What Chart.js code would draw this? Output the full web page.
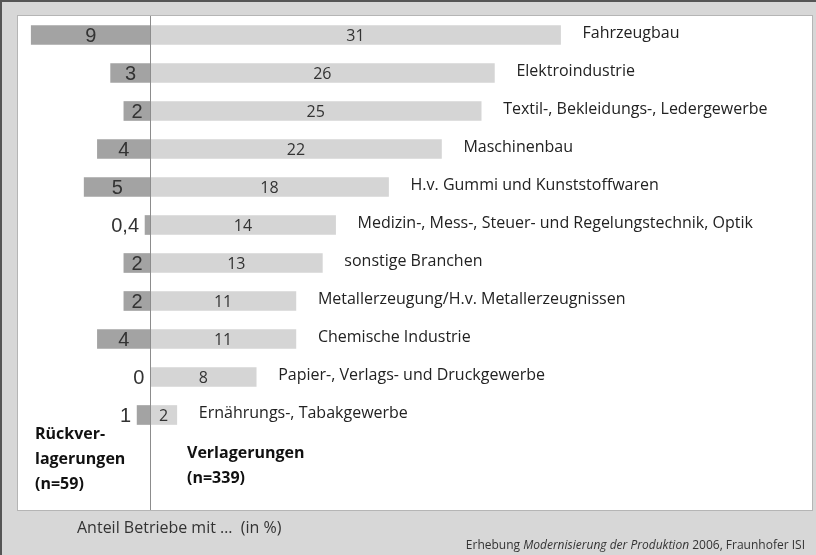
<!DOCTYPE html>
<html>
<head>
<meta charset="utf-8">
<script src="https://cdn.jsdelivr.net/npm/chart.js@4"></script>
<style>
    body { margin: 0; background: #d7d7d7; }
    canvas { display: block; }
</style>
</head>
<body>
<canvas id="chart" width="816" height="555"></canvas>
<script>
const branchen = [
    "Fahrzeugbau",
    "Elektroindustrie",
    "Textil-, Bekleidungs-, Ledergewerbe",
    "Maschinenbau",
    "H.v. Gummi und Kunststoffwaren",
    "Medizin-, Mess-, Steuer- und Regelungstechnik, Optik",
    "sonstige Branchen",
    "Metallerzeugung/H.v. Metallerzeugnissen",
    "Chemische Industrie",
    "Papier-, Verlags- und Druckgewerbe",
    "Ernährungs-, Tabakgewerbe"
]
const verlagerungen = [31, 26, 25, 22, 18, 14, 13, 11, 11, 8, 2]
const rueckverlagerungen = [9, 3, 2, 4, 5, 0.4, 2, 2, 4, 0, 1]

const fontSans = "'Open Sans', 'Noto Sans', sans-serif"

function formatDe(v) {
    return String(v).replace(".", ",")
}

// background, white panel, labels and the zero line
const panelPlugin = {
    id: "panel",
    beforeDraw(chart) {
        const { ctx, chartArea: a, width, height } = chart
        ctx.save()
        ctx.fillStyle = "#d7d7d7"
        ctx.fillRect(0, 0, width, height)
        ctx.strokeStyle = "#555"
        ctx.lineWidth = 2
        ctx.beginPath()
        ctx.moveTo(1, height)
        ctx.lineTo(1, 1)
        ctx.lineTo(width, 1)
        ctx.stroke()
        ctx.fillStyle = "#fff"
        ctx.fillRect(a.left, a.top, a.right - a.left, a.bottom - a.top)
        ctx.strokeStyle = "#b5b5b5"
        ctx.lineWidth = 1
        ctx.strokeRect(a.left - 0.5, a.top - 0.5, a.right - a.left + 1, a.bottom - a.top + 1)
        ctx.restore()
    },
    afterDatasetsDraw(chart) {
        const { ctx, chartArea: a, scales: { x, y } } = chart
        const zero = x.getPixelForValue(0)
        ctx.save()

        ctx.strokeStyle = "#8c8c8c"
        ctx.lineWidth = 1
        ctx.beginPath()
        ctx.moveTo(Math.round(zero) + 0.5, a.top)
        ctx.lineTo(Math.round(zero) + 0.5, a.bottom)
        ctx.stroke()

        ctx.textBaseline = "middle"
        branchen.forEach((name, i) => {
            const yPx = y.getPixelForValue(i)

            // Verlagerungen
            const end = x.getPixelForValue(verlagerungen[i])
            ctx.fillStyle = "#333"
            ctx.font = "16px " + fontSans
            ctx.textAlign = "center"
            ctx.fillText(formatDe(verlagerungen[i]), (zero + end) / 2, yPx + 1)

            ctx.fillStyle = "#222"
            ctx.textAlign = "left"
            ctx.fillText(name, end + 22, yPx - 2)

            // Rückverlagerungen
            const start = x.getPixelForValue(-rueckverlagerungen[i])
            ctx.fillStyle = "#333"
            ctx.font = "20px 'Liberation Sans', Arial, sans-serif"
            if (rueckverlagerungen[i] >= 2) {
                ctx.textAlign = "center"
                ctx.fillText(formatDe(rueckverlagerungen[i]), (zero + start) / 2, yPx + 1)
            } else {
                ctx.textAlign = "right"
                ctx.fillText(formatDe(rueckverlagerungen[i]), start - 6, yPx + 1)
            }
        })

        ctx.fillStyle = "#111"
        ctx.font = "bold 16px " + fontSans
        ctx.textAlign = "left"
        ctx.fillText("Rückver-", 35, 434)
        ctx.fillText("lagerungen", 35, 459)
        ctx.fillText("(n=59)", 35, 484)
        ctx.fillText("Verlagerungen", 187, 453)
        ctx.fillText("(n=339)", 187, 478)

        ctx.fillStyle = "#333"
        ctx.font = "16px " + fontSans
        ctx.fillText("Anteil Betriebe mit …  (in %)", 77, 528)

        const src = ["Erhebung ", "Modernisierung der Produktion", " 2006, Fraunhofer ISI"]
        const styles = ["12px ", "italic 12px ", "12px "]
        ctx.textAlign = "right"
        let xr = 805
        for (let k = src.length - 1; k >= 0; k--) {
            ctx.font = styles[k] + fontSans
            ctx.fillText(src[k], xr, 546)
            xr -= ctx.measureText(src[k]).width
        }
        ctx.restore()
    }
}

const ctx = document.getElementById("chart").getContext("2d")
const chart = new Chart(ctx, {
    type: "bar",
    data: {
        datasets: [
            {
                label: "Verlagerungen (n=339)",
                data: verlagerungen.map((v, i) => ({ x: v, y: i })),
                backgroundColor: "#d5d5d5",
                borderWidth: 0,
                barThickness: 19,
                grouped: false
            },
            {
                label: "Rückverlagerungen (n=59)",
                data: rueckverlagerungen.map((v, i) => ({ x: -v, y: i })),
                backgroundColor: "#a3a3a3",
                borderWidth: 0,
                barThickness: 19,
                grouped: false
            }
        ]
    },
    options: {
        indexAxis: "y",
        responsive: false,
        animation: false,
        devicePixelRatio: 1,
        layout: {
            padding: { left: 18, right: 4, top: 16, bottom: 45 }
        },
        scales: {
            x: { type: "linear", min: -10, max: 50, offset: false, display: false },
            y: { type: "linear", min: -0.5, max: 12.5, reverse: true, offset: false, display: false }
        },
        plugins: {
            legend: { display: false },
            tooltip: { enabled: false }
        }
    },
    plugins: [panelPlugin]
})
</script>
</body>
</html>
